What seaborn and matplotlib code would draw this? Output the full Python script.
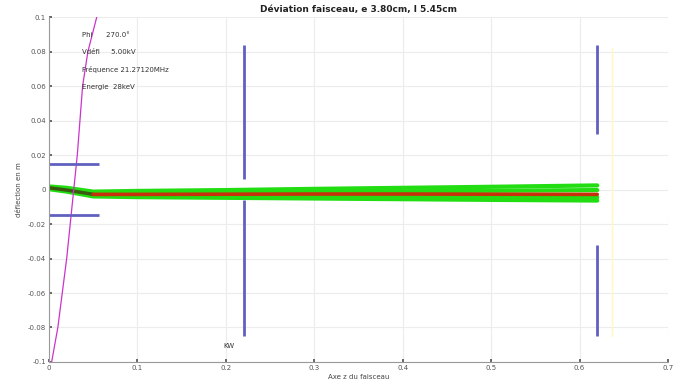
import numpy as np
import pandas as pd
import matplotlib
matplotlib.use("Agg")
import matplotlib.pyplot as plt
import seaborn as sns

# ---- data ----
title = "Déviation faisceau, e 3.80cm, l 5.45cm"
xlabel = "Axe z du faisceau"
ylabel = "déflection en m"
info_lines = ["Phi      270.0°", "Vdéfl     5.00kV", "Fréquence 21.27120MHz", "Energie  28keV"]

xticks = [0, 0.1, 0.2, 0.3, 0.4, 0.5, 0.6, 0.7]
xtick_labels = ["0", "0.1", "0.2", "0.3", "0.4", "0.5", "0.6", "0.7"]
yticks = [-0.1, -0.08, -0.06, -0.04, -0.02, 0, 0.02, 0.04, 0.06, 0.08, 0.1]
ytick_labels = ["-0.1", "-0.08", "-0.06", "-0.04", "-0.02", "0", "0.02", "0.04", "0.06", "0.08", "0.1"]

# beam trajectories (z, deflection)
beam_z = [0, 0.02, 0.05, 0.1, 0.2, 0.3, 0.4, 0.5, 0.62]
beam_upper = [0.0018, 0.001, -0.0012, -0.0008, -0.0003, 0.0004, 0.001, 0.0016, 0.0024]
beam_mid_up = [0.0013, 0.0004, -0.002, -0.0019, -0.0017, -0.0014, -0.001, -0.0007, -0.0003]
beam_mid_dn = [0.0006, -0.0006, -0.0034, -0.0036, -0.0037, -0.0038, -0.004, -0.0042, -0.0045]
beam_lower = [0.0002, -0.0012, -0.004, -0.0044, -0.0048, -0.0052, -0.0056, -0.006, -0.0064]
beam_center = [0.001, -0.0003, -0.0028, -0.0028, -0.0027, -0.0026, -0.0026, -0.0027, -0.0028]

# magenta curve
mag_x = [0.003, 0.010, 0.015, 0.020, 0.024, 0.028, 0.032, 0.035, 0.038, 0.044, 0.054]
mag_y = [-0.1, -0.08, -0.06, -0.04, -0.02, 0.0, 0.02, 0.04, 0.06, 0.08, 0.1]

# blue electrode segments: (x0, x1, y0, y1)
plates_x0 = [0.0, 0.0, 0.22, 0.22, 0.62, 0.62]
plates_x1 = [0.056, 0.056, 0.22, 0.22, 0.62, 0.62]
plates_y0 = [0.015, -0.015, 0.084, -0.006, 0.084, -0.032]
plates_y1 = [0.015, -0.015, 0.006, -0.085, 0.032, -0.085]

yellow_x = 0.637
yellow_y = [-0.085, 0.082]

kw_pos = (0.197, -0.091)

# ---- plotting ----
sns.set_theme(style="whitegrid")
plt.rcParams['font.family'] = ['DejaVu Sans']

fig = plt.figure(figsize=(6.73, 3.80), dpi=100)
ax = fig.add_axes([0.0728, 0.0474, 0.9198, 0.9076])

ax.grid(True, color="#ececec", linewidth=0.8)
ax.set_facecolor("white")

# beam
green = "#22dd11"
for traj in [beam_upper, beam_mid_up, beam_mid_dn, beam_lower]:
    df = pd.DataFrame({"z": beam_z, "d": traj})
    sns.lineplot(data=df, x="z", y="d", ax=ax, color=green, linewidth=3.0,
                 sort=False, estimator=None)
df = pd.DataFrame({"z": beam_z[:3], "d": beam_center[:3]})
sns.lineplot(data=df, x="z", y="d", ax=ax, color="#3a5a10", linewidth=2.5,
             sort=False, estimator=None)
df = pd.DataFrame({"z": beam_z[2:], "d": beam_center[2:]})
sns.lineplot(data=df, x="z", y="d", ax=ax, color="#c8300c", linewidth=2.6,
             sort=False, estimator=None)

# magenta curve
df = pd.DataFrame({"z": mag_x, "d": mag_y})
sns.lineplot(data=df, x="z", y="d", ax=ax, color="#cc33cc", linewidth=0.9,
             sort=False, estimator=None)

# yellow faint line
ax.plot([yellow_x, yellow_x], yellow_y, color="#fff8c0", linewidth=1.0)

# blue plates
for x0, x1, y0, y1 in zip(plates_x0, plates_x1, plates_y0, plates_y1):
    ax.plot([x0, x1], [y0, y1], color="#6060c0", linewidth=2.0, solid_capstyle="butt")

# info text
for i, t in enumerate(info_lines):
    ax.text(0.037, 0.0896 - i * 0.0101, t, fontsize=5, color="#333333", va="center")

ax.text(kw_pos[0], kw_pos[1], "KW", fontsize=5, color="#333333", va="center")

ax.set_xlim(0, 0.7)
ax.set_ylim(-0.1, 0.1)
ax.set_xticks(xticks)
ax.set_xticklabels(xtick_labels)
ax.set_yticks(yticks)
ax.set_yticklabels(ytick_labels)
ax.tick_params(axis="both", labelsize=5, colors="#555555", length=2, direction="in",
               pad=2)
ax.tick_params(axis="both", which="both", bottom=True, left=True, top=False, right=False)

for s in ["top", "right"]:
    ax.spines[s].set_visible(False)
for s in ["left", "bottom"]:
    ax.spines[s].set_visible(True)
    ax.spines[s].set_color("#999999")
    ax.spines[s].set_linewidth(0.8)

ax.set_xlabel(xlabel, fontsize=5, color="#444444", labelpad=2)
ax.set_ylabel(ylabel, fontsize=5, color="#444444", labelpad=4)
ax.set_title(title, fontsize=6.5, fontweight="bold", color="#222222", pad=4)

fig.savefig("out.png", dpi=100)
